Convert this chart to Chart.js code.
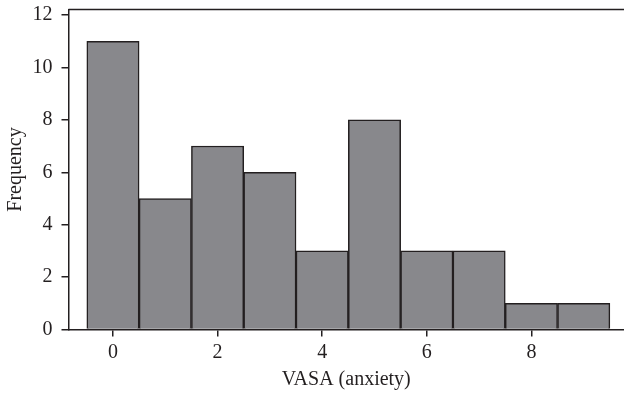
<!DOCTYPE html>
<html>
<head>
<meta charset="utf-8">
<script src="https://cdn.jsdelivr.net/npm/chart.js@4"></script>
<style>
  html, body { margin: 0; background: #fff; }
  #wrap { width: 624px; height: 396px; }
</style>
</head>
<body>
<div id="wrap"><canvas id="histChart"></canvas></div>
<script>
// VASA (anxiety) score bins and how many fell in each
const scores = [0, 1, 2, 3, 4, 5, 6, 7, 8, 9];
const frequency = [11, 5, 7, 6, 3, 8, 3, 3, 1, 1];
const xTicks = [0, 2, 4, 6, 8];
const yTicks = [0, 2, 4, 6, 8, 10, 12];

const ink = "#231f20";
const serif = "'Liberation Serif', 'Times New Roman', serif";

// top frame line, the reference has one above the plot
const topLine = {
    id: "topLine",
    afterDraw(chart) {
        const { ctx, chartArea } = chart;
        ctx.save();
        ctx.strokeStyle = ink;
        ctx.lineWidth = 1.5;
        ctx.beginPath();
        ctx.moveTo(chartArea.left, chartArea.top);
        ctx.lineTo(chartArea.right, chartArea.top);
        ctx.stroke();
        ctx.restore();
    }
};

const ctx = document.getElementById("histChart").getContext("2d");
const histChart = new Chart(ctx, {
    type: "bar",
    data: {
        datasets: [{
            data: scores.map((s, i) => ({ x: s, y: frequency[i] })),
            backgroundColor: "#88888c",
            borderColor: ink,
            borderWidth: 1.5,
            barPercentage: 1,
            categoryPercentage: 1
        }]
    },
    plugins: [topLine],
    options: {
        responsive: true,
        maintainAspectRatio: false,
        animation: false,
        layout: { padding: { top: 9.5, left: 0, right: 0, bottom: 0 } },
        plugins: { legend: { display: false }, tooltip: { enabled: false } },
        scales: {
            x: {
                type: "linear",
                offset: false,
                min: -0.85,
                max: 9.77,
                afterBuildTicks: scale => { scale.ticks = xTicks.map(v => ({ value: v })); },
                afterFit: scale => {
                    scale.height = 66.5;
                    scale.paddingLeft = 0;
                    scale.paddingRight = 0;
                },
                grid: { offset: false, drawOnChartArea: false, tickLength: 7, color: ink, lineWidth: 1.5 },
                border: { color: ink, width: 1.5 },
                ticks: { color: ink, font: { family: serif, size: 20 }, padding: 4.5, maxRotation: 0 },
                title: {
                    display: true,
                    text: "VASA (anxiety)",
                    color: ink,
                    font: { family: serif, size: 20 },
                    padding: { top: 0, bottom: 4 }
                }
            },
            y: {
                min: 0,
                max: 12.21,
                afterBuildTicks: scale => { scale.ticks = yTicks.map(v => ({ value: v })); },
                afterFit: scale => {
                    scale.width = 68.5;
                    scale.paddingTop = 0;
                    scale.paddingBottom = 0;
                },
                grid: { drawOnChartArea: false, tickLength: 7, color: ink, lineWidth: 1.5 },
                border: { color: ink, width: 1.5 },
                ticks: { color: ink, font: { family: serif, size: 20 }, padding: 9 },
                title: {
                    display: true,
                    text: "Frequency",
                    color: ink,
                    font: { family: serif, size: 20 },
                    padding: { top: 4, bottom: 0 }
                }
            }
        }
    }
});
</script>
</body>
</html>
